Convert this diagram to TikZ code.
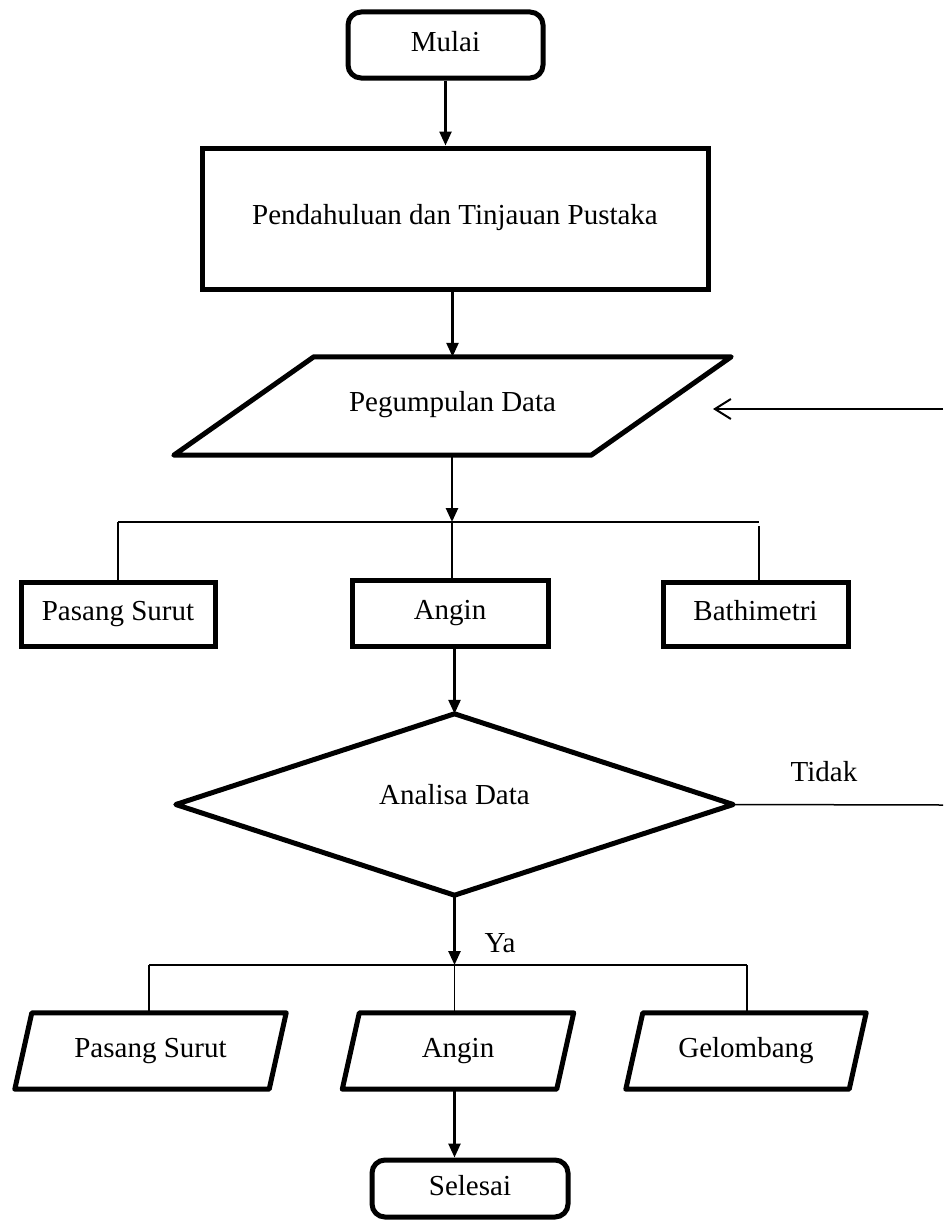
\documentclass[tikz,border=0pt]{standalone}
\usepackage{fontspec}
\setmainfont{Liberation Serif}
\usetikzlibrary{arrows.meta,calc}
\begin{document}
\begin{tikzpicture}[x=1pt,y=-1pt,
  txt/.style={font=\fontsize{29pt}{34pt}\selectfont, inner sep=0pt, text height=20pt, text depth=7pt},
  procbox/.style={txt, draw, line width=5pt, minimum width=#1},
  termbox/.style={txt, draw, line width=5pt, rounded corners=13pt, minimum width=#1},
  ghost/.style={txt, minimum width=#1},
  outline/.style={line width=5pt, line join=round},
  conn/.style={line width=2.5pt, -{Triangle[length=14pt,width=12pt]}},
  branch/.style={line width=1.5pt},
  openarrow/.style={line width=2pt, -{Straight Barb[length=16pt,width=20pt,line width=2pt]}}
]
\useasboundingbox (0,0) rectangle (943,1223);

% top
\node[termbox=195pt, minimum height=66pt] (mulai) at (445.5,45) {Mulai};
\node[procbox=506pt, minimum height=141pt, text depth=9pt] (pend) at (455,218.5) {Pendahuluan dan Tinjauan Pustaka};
\node[ghost=417pt, minimum height=98pt, text depth=9pt] (peg) at (452.5,406) {Pegumpulan Data};
\draw[outline] ([xshift=70pt]peg.north west) -- ([xshift=70pt]peg.north east)
  -- ([xshift=-70pt]peg.south east) -- ([xshift=-70pt]peg.south west) -- cycle;

\draw[conn] (mulai.south) -- (mulai.south |- pend.north);
\draw[conn] (peg.north |- pend.south) -- (peg.north);

% return arrow
\coordinate (rstart) at (943,409);
\coordinate (rend) at (713,409);
\draw[openarrow] (rstart) -- (rend);

% first branch
\coordinate (j1) at (452,522);
\coordinate (j1l) at (118,522);
\coordinate (j1r) at (759,522);
\draw[conn] (peg.south -| j1) -- (j1);
\draw[branch] (j1l) -- (j1r);

\node[procbox=194pt, minimum height=64pt] (ps1) at (118,614) {Pasang Surut};
\node[procbox=196pt, minimum height=66pt] (an1) at (450,613) {Angin};
\node[procbox=185pt, minimum height=64pt] (ba1) at (755.5,614) {Bathimetri};

\draw[branch] (j1l) -- (j1l |- ps1.north);
\draw[branch] (j1) -- (j1 |- an1.north);
\draw[branch] ([yshift=-4pt]j1r) -- (j1r |- ba1.north);

% decision
\node[ghost=557pt, minimum height=181pt, text depth=20pt] (ana) at (454.5,804.5) {Analisa Data};
\draw[outline] (ana.north) -- (ana.east) -- (ana.south) -- (ana.west) -- cycle;
\draw[conn] (ana.north |- an1.south) -- (ana.north);

\coordinate (tend) at (943,805);
\draw[branch] (ana.east) -- (tend);
\node[txt] (tidak) at (824,775) {Tidak};

% second branch
\coordinate (j2) at (454.5,965);
\coordinate (j2l) at (149,965);
\coordinate (j2r) at (747,965);
\draw[conn] (ana.south) -- (j2);
\node[txt] (ya) at (500,946) {Ya};
\draw[branch] (j2l) -- (j2r);

\node[ghost=254pt, minimum height=76pt] (ps2) at (150.5,1051) {Pasang Surut};
\node[ghost=214pt, minimum height=76pt] (an2) at (458,1051) {Angin};
\node[ghost=223pt, minimum height=76pt] (ge2) at (746,1051) {Gelombang};
\foreach \n in {ps2,an2,ge2}{
  \draw[outline] ([xshift=8.5pt]\n.north west) -- ([xshift=8.5pt]\n.north east)
    -- ([xshift=-8.5pt]\n.south east) -- ([xshift=-8.5pt]\n.south west) -- cycle;
}
\draw[branch] (j2l) -- (j2l |- ps2.north);
\draw[branch] (j2) -- (j2 |- an2.north);
\draw[branch] (j2r) -- (j2r |- ge2.north);

% end
\node[termbox=196pt, minimum height=57pt] (sel) at (470,1188.5) {Selesai};
\draw[conn] (j2 |- an2.south) -- (j2 |- sel.north);
\end{tikzpicture}
\end{document}
